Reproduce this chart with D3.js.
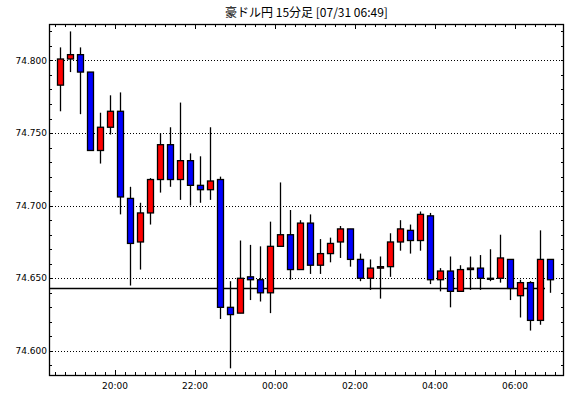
<!DOCTYPE html>
<html>
<head>
<meta charset="utf-8">
<script src="https://cdn.jsdelivr.net/npm/d3@7"></script>
<style>
  html, body { margin: 0; padding: 0; background: #fff; }
  svg { display: block; }
  text { font-family: "DejaVu Sans", sans-serif; fill: #000; }
</style>
</head>
<body>
<svg id="chart" width="570" height="398"></svg>
<script>
// ---------- DATA ----------
const title = "豪ドル円 15分足 [07/31 06:49]";
const times = ["18:30","18:45","19:00","19:15","19:30","19:45","20:00","20:15","20:30","20:45",
               "21:00","21:15","21:30","21:45","22:00","22:15","22:30","22:45","23:00","23:15",
               "23:30","23:45","00:00","00:15","00:30","00:45","01:00","01:15","01:30","01:45",
               "02:00","02:15","02:30","02:45","03:00","03:15","03:30","03:45","04:00","04:15",
               "04:30","04:45","05:00","05:15","05:30","05:45","06:00","06:15","06:30","06:45"];
const open  = [74.783,74.801,74.804,74.792,74.738,74.754,74.765,74.705,74.675,74.695,
               74.718,74.742,74.718,74.731,74.714,74.711,74.718,74.630,74.626,74.651,
               74.649,74.640,74.672,74.680,74.656,74.688,74.659,74.667,74.675,74.684,
               74.663,74.650,74.657,74.658,74.675,74.683,74.676,74.693,74.649,74.655,
               74.641,74.656,74.657,74.650,74.650,74.663,74.638,74.647,74.621,74.663];
const high  = [74.809,74.820,74.809,74.792,74.764,74.776,74.778,74.713,74.702,74.719,
               74.750,74.754,74.771,74.736,74.734,74.754,74.720,74.648,74.676,74.673,
               74.672,74.689,74.716,74.697,74.690,74.694,74.677,74.678,74.686,74.684,
               74.667,74.663,74.665,74.681,74.690,74.687,74.696,74.695,74.657,74.665,
               74.659,74.665,74.666,74.670,74.680,74.663,74.649,74.648,74.683,74.663];
const low   = [74.765,74.792,74.763,74.738,74.729,74.749,74.694,74.645,74.656,74.687,
               74.709,74.713,74.704,74.700,74.702,74.704,74.622,74.588,74.626,74.635,
               74.634,74.626,74.672,74.649,74.656,74.653,74.653,74.661,74.664,74.658,
               74.648,74.642,74.636,74.651,74.669,74.667,74.669,74.646,74.641,74.630,
               74.641,74.642,74.642,74.648,74.647,74.635,74.623,74.614,74.618,74.640];
const close = [74.801,74.804,74.792,74.738,74.754,74.765,74.706,74.674,74.695,74.718,
               74.742,74.718,74.731,74.714,74.711,74.717,74.630,74.625,74.650,74.649,
               74.640,74.672,74.680,74.656,74.688,74.659,74.667,74.674,74.684,74.663,
               74.650,74.657,74.658,74.675,74.684,74.676,74.694,74.649,74.655,74.641,
               74.656,74.657,74.650,74.650,74.664,74.643,74.647,74.621,74.663,74.649];
const yTickLabels = [74.600, 74.650, 74.700, 74.750, 74.800];
const xTickLabels = ["20:00","22:00","00:00","02:00","04:00","06:00"];
const refLevel = 74.643;      // horizontal reference line
const refLineEnd = "06:45";   // reference line runs up to this time
const yDomain = [74.5834, 74.8251];
const xDomainStart = "2023-07-30T18:21:00";
const xDomainEnd   = "2023-07-31T07:13:30";

// ---------- HELPERS ----------
function toDate(hhmm) {
  const [h, m] = hhmm.split(":").map(Number);
  const day = h >= 12 ? 30 : 31;
  return new Date(2023, 6, day, h, m, 0);
}
const candles = times.map((t, i) => ({
  t: toDate(t), o: open[i], h: high[i], l: low[i], c: close[i]
}));

// ---------- LAYOUT ----------
const L = 49, R = 564, T = 24, B = 375;
const svg = d3.select("#chart");

const x = d3.scaleTime()
  .domain([new Date(xDomainStart), new Date(xDomainEnd)])
  .range([L, R]);
const y = d3.scaleLinear().domain(yDomain).range([B, T]);

const halfSlot = 7.5 * 60 * 1000;

// title
svg.append("text")
  .attr("x", (L + R) / 2).attr("y", 17)
  .attr("text-anchor", "middle")
  .style("font-family", "'Noto Sans CJK JP', 'DejaVu Sans', sans-serif")
  .style("font-size", "12px")
  .text(title);

// gridlines (dotted)
svg.append("g").selectAll("line").data(yTickLabels).join("line")
  .attr("x1", L).attr("x2", R - 1)
  .attr("y1", d => Math.round(y(d)) + 0.5).attr("y2", d => Math.round(y(d)) + 0.5)
  .attr("stroke", "#000").attr("stroke-width", 1)
  .attr("stroke-dasharray", "1,2");

// reference line
svg.append("line")
  .attr("x1", L).attr("x2", x(toDate(refLineEnd)))
  .attr("y1", Math.round(y(refLevel)) + 0.5).attr("y2", Math.round(y(refLevel)) + 0.5)
  .attr("stroke", "#000").attr("stroke-width", 1.3);

// candles
const cg = svg.append("g");
candles.forEach(d => {
  const cx = Math.round(x(new Date(d.t.getTime() + halfSlot))) + 0.5;
  cg.append("line")
    .attr("x1", cx).attr("x2", cx)
    .attr("y1", y(d.h)).attr("y2", y(d.l))
    .attr("stroke", "#000").attr("stroke-width", 1.3);
  const top = y(Math.max(d.o, d.c)), bot = y(Math.min(d.o, d.c));
  cg.append("rect")
    .attr("x", cx - 3).attr("width", 6)
    .attr("y", top).attr("height", Math.max(1, bot - top))
    .attr("fill", d.c >= d.o ? "#ff0000" : "#0000ff")
    .attr("stroke", "#000").attr("stroke-width", 1.3);
});

// x ticks: every 15 minutes
const tickTimes = times.concat(["07:00"]).map(toDate);
const majorTimes = xTickLabels.map(toDate);
const isMajor = d => majorTimes.some(m => m.getTime() === d.getTime());

const axisG = svg.append("g").attr("shape-rendering", "crispEdges");
tickTimes.forEach(d => {
  const xx = Math.round(x(d)) + 0.5;
  const len = isMajor(d) ? 5 : 3;
  axisG.append("line").attr("x1", xx).attr("x2", xx).attr("y1", B).attr("y2", B - len)
    .attr("stroke", "#000");
  axisG.append("line").attr("x1", xx).attr("x2", xx).attr("y1", T).attr("y2", T + len)
    .attr("stroke", "#000");
});

// x labels
svg.append("g").selectAll("text").data(majorTimes).join("text")
  .attr("x", d => x(d)).attr("y", 389)
  .attr("text-anchor", "middle")
  .style("font-size", "9px")
  .text((d, i) => xTickLabels[i]);

// y minor ticks every 0.010
const yMinor = d3.range(74.59, 74.8251, 0.01).map(v => +v.toFixed(3));
yMinor.forEach(v => {
  const yy = Math.round(y(v)) + 0.5;
  axisG.append("line").attr("x1", L).attr("x2", L + 3).attr("y1", yy).attr("y2", yy).attr("stroke", "#000");
  axisG.append("line").attr("x1", R).attr("x2", R - 3).attr("y1", yy).attr("y2", yy).attr("stroke", "#000");
});

// y labels
svg.append("g").selectAll("text").data(yTickLabels).join("text")
  .attr("x", L - 2).attr("y", d => y(d))
  .attr("dy", "0.35em")
  .attr("text-anchor", "end")
  .style("font-size", "9px")
  .text(d => d3.format(".3f")(d));

// frame
svg.append("rect")
  .attr("x", L + 0.5).attr("y", T + 0.5)
  .attr("width", R - L - 1).attr("height", B - T)
  .attr("fill", "none").attr("stroke", "#000").attr("stroke-width", 1.3);
</script>
</body>
</html>
